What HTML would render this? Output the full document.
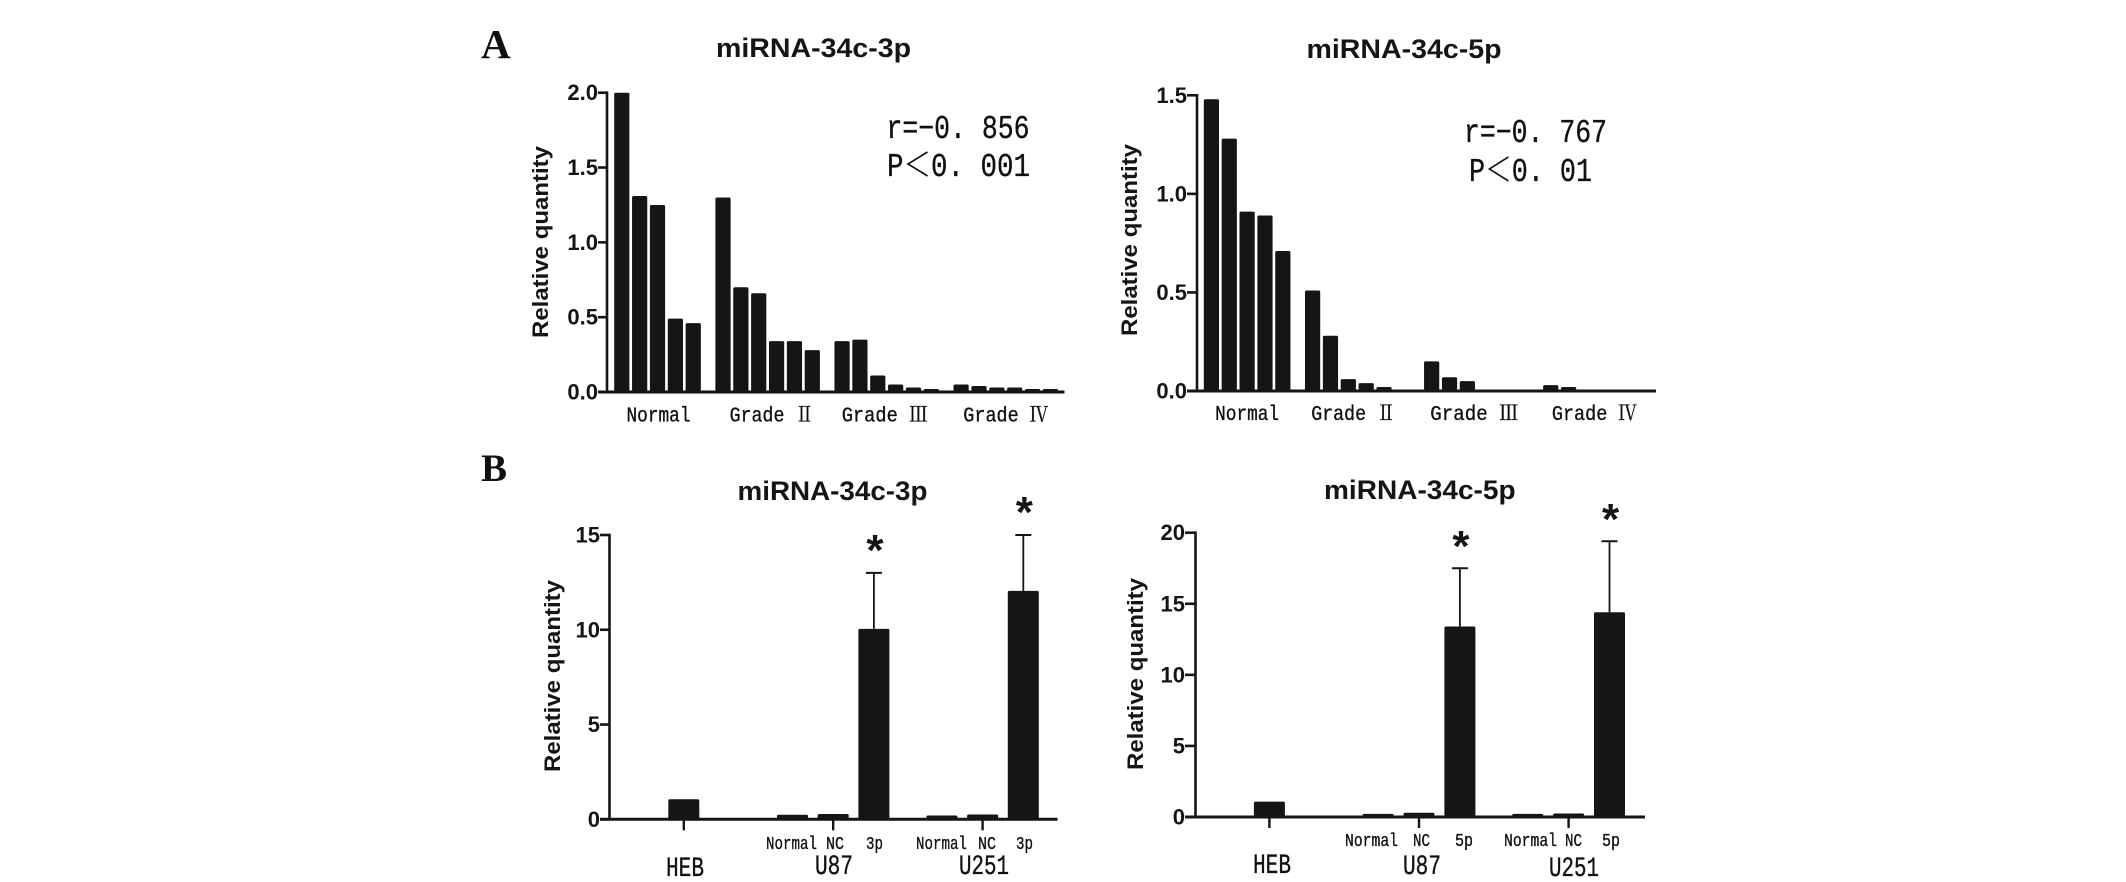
<!DOCTYPE html>
<html lang="en">
<head>
<meta charset="utf-8">
<title>miRNA-34c relative quantity charts</title>
<style>
html,body{margin:0;padding:0;background:#fff;width:2126px;height:882px;overflow:hidden}
svg{display:block}
.sans{font-family:"Liberation Sans",sans-serif;font-weight:bold;fill:#151515}
.mono{font-family:"Liberation Mono","Noto Serif CJK SC",monospace;fill:#111;stroke:#111;stroke-width:0.35px}
.letter{font-family:"Liberation Serif",serif;font-weight:bold;fill:#111}
</style>
</head>
<body>
<svg id="figure" xmlns="http://www.w3.org/2000/svg" width="2126" height="882" viewBox="0 0 2126 882">
  <text class="letter" x="481" y="58" font-size="41">A</text>
  <text class="letter" x="481" y="481" font-size="39">B</text>

  <text class="mono" x="886.5" y="138" font-size="33" textLength="143" lengthAdjust="spacingAndGlyphs">r=−0. 856</text>
  <text class="mono" x="887" y="176" font-size="33" textLength="143" lengthAdjust="spacingAndGlyphs">P＜0. 001</text>
  <text class="mono" x="1464" y="142" font-size="33" textLength="143" lengthAdjust="spacingAndGlyphs">r=−0. 767</text>
  <text class="mono" x="1469" y="181" font-size="33" textLength="123" lengthAdjust="spacingAndGlyphs">P＜0. 01</text>
</svg>
<script>
// ---------- data ----------
const titleA1 = "miRNA-34c-3p";
const titleA2 = "miRNA-34c-5p";
const titleB1 = "miRNA-34c-3p";
const titleB2 = "miRNA-34c-5p";
const yAxisTitle = "Relative quantity";

const gradeCategories = ["Normal", "Grade Ⅱ", "Grade Ⅲ", "Grade Ⅳ"];
const a1Normal = [2.0, 1.31, 1.25, 0.49, 0.46];
const a1Grade2 = [1.3, 0.7, 0.66, 0.34, 0.34, 0.28];
const a1Grade3 = [0.34, 0.35, 0.11, 0.05, 0.03, 0.02];
const a1Grade4 = [0.05, 0.04, 0.03, 0.03, 0.02, 0.02];
const a2Normal = [1.48, 1.28, 0.91, 0.89, 0.71];
const a2Grade2 = [0.51, 0.28, 0.06, 0.04, 0.02, 0];
const a2Grade3 = [0.15, 0.07, 0.05, 0, 0, 0];
const a2Grade4 = [0.03, 0.02, 0, 0, 0, 0];
const a1Ticks = ["0.0", "0.5", "1.0", "1.5", "2.0"];
const a2Ticks = ["0.0", "0.5", "1.0", "1.5"];

const cellLines = ["HEB", "U87", "U251"];
const b1SubLabels = ["Normal", "NC", "3p"];
const b2SubLabels = ["Normal", "NC", "5p"];
const b1Heb = [1.06];
const b1U87 = [0.24, 0.28, 10.05];
const b1U251 = [0.2, 0.25, 12.05];
const b1U87Err = [0, 0, 2.95];
const b1U251Err = [0, 0, 2.95];
const b2Heb = [1.08];
const b2U87 = [0.22, 0.3, 13.4];
const b2U251 = [0.22, 0.25, 14.4];
const b2U87Err = [0, 0, 4.1];
const b2U251Err = [0, 0, 5.0];
const b1Ticks = ["0", "5", "10", "15"];
const b2Ticks = ["0", "5", "10", "15", "20"];

// ---------- drawing ----------
const NS = "http://www.w3.org/2000/svg";
const svg = document.getElementById("figure");
const INK = "#151515";

function make(tag, attrs, parent) {
  const n = document.createElementNS(NS, tag);
  for (const k in attrs) n.setAttribute(k, attrs[k]);
  (parent || svg).appendChild(n);
  return n;
}

function drawFrame(p) {
  const yScale = v => p.y0 + (p.yTop - p.y0) * (v / p.yMax);
  const title = make("text", {class: "sans", x: p.titleX, y: p.titleY, "font-size": 27, textLength: p.titleW, lengthAdjust: "spacingAndGlyphs"});
  title.textContent = p.title;
  
  

  const yTitle = make("text", {class: "sans", transform: "translate(" + p.yTitleX + "," + p.yTitleY + ") rotate(-90)", "text-anchor": "middle", "font-size": 22, textLength: 192, lengthAdjust: "spacingAndGlyphs"});
  yTitle.textContent = yAxisTitle;
  
  

  p.ticks.forEach(t => {
    const y = yScale(parseFloat(t));
    const tick = make("line", {x1: p.axisLeft, x2: p.axisX, y1: y, y2: y, stroke: INK, "stroke-width": 2.6});
    
    
    const label = make("text", {class: "sans", x: p.axisLeft, y: y + 7.5, "text-anchor": "end", "font-size": 22});
    label.textContent = t;
    
    
  });

  const yLine = make("line", {x1: p.axisX, x2: p.axisX, y1: p.yTop - 1.3, y2: p.y0, stroke: INK, "stroke-width": 2.6});
  
  
  return yScale;
}

function finishAxis(p) {
  const xLine = make("line", {x1: p.axisLeft, x2: p.axisRight, y1: p.y0, y2: p.y0, stroke: INK, "stroke-width": 3});
  
  
}

function drawGradePanel(p) {
  const yScale = drawFrame(p);
  let cx = p.firstX;
  p.groups.forEach((vals, g) => {
    const start = cx;
    vals.forEach((v, i) => {
      const y = yScale(v);
      if (v > 0) {
        const bar = make("rect", {x: cx - p.barW / 2, y: y, width: p.barW, height: p.y0 - y, rx: 1.5, fill: INK});
        
        
      }
      if (i < vals.length - 1) cx += p.slot;
    });
    const center = (start + cx) / 2;
    const cat = make("text", {class: "mono", x: center + p.labelShift[g], y: p.labelY, "text-anchor": "middle", "font-size": 21, textLength: p.labelW[g], lengthAdjust: "spacingAndGlyphs"});
    cat.textContent = gradeCategories[g];
    
    
    cx += p.groupGap;
  });
  finishAxis(p);
}

function drawCellPanel(p) {
  const yScale = drawFrame(p);
  p.groups.forEach((vals, g) => {
    const tickX = p.hebX + g * p.tickStep;
    const tick = make("line", {x1: tickX, x2: tickX, y1: p.y0, y2: p.y0 + 11, stroke: INK, "stroke-width": 2.4});
    
    
    vals.forEach((v, i) => {
      const cx = tickX + (i - (vals.length - 1) / 2) * p.barStep;
      const y = yScale(v);
      const err = p.errs[g] ? p.errs[g][i] : 0;
      if (err > 0) {
        const top = yScale(v + err);
        const stem = make("line", {x1: cx, x2: cx, y1: top, y2: y, stroke: INK, "stroke-width": 1.8});
        
        
        const cap = make("line", {x1: cx - 8, x2: cx + 8, y1: top, y2: top, stroke: INK, "stroke-width": 2});
        
        
        const star = make("text", {class: "sans", x: cx + 1, y: top + p.starDy, "text-anchor": "middle", "font-size": 44});
        star.textContent = "*";
        
        
      }
      const bar = make("rect", {x: cx - p.barW / 2, y: y, width: p.barW, height: p.y0 - y, rx: 1.5, fill: INK});
      
      
    });
  });
  finishAxis(p);

  cellLines.forEach((name, g) => {
    const t = make("text", {class: "mono", x: p.groupLabelX[g], y: p.groupLabelY[g], "font-size": 28, textLength: p.groupLabelW[g], lengthAdjust: "spacingAndGlyphs"});
    t.textContent = name;
    
    
  });
  p.subLabelX.forEach((xs, g) => {
    xs.forEach((x, i) => {
      const t = make("text", {class: "mono", x: x, y: p.subLabelY, "font-size": 18, textLength: p.subLabelW[i], lengthAdjust: "spacingAndGlyphs"});
      t.textContent = p.subLabels[i];
      
      
    });
  });
}

drawGradePanel({
  id: "a1", title: titleA1, titleX: 716, titleY: 57, titleW: 195,
  yTitleX: 548, yTitleY: 242, ticks: a1Ticks, yMax: 2.0,
  axisX: 607, axisLeft: 598, axisRight: 1064.5, y0: 392, yTop: 92.7,
  groups: [a1Normal, a1Grade2, a1Grade3, a1Grade4],
  firstX: 621.8, slot: 17.86, groupGap: 29.76, barW: 15.2,
  labelY: 421.5, labelW: [64, 84, 86, 85], labelShift: [1, 4, -2, 0]
});
drawGradePanel({
  id: "a2", title: titleA2, titleX: 1306.5, titleY: 58, titleW: 195,
  yTitleX: 1137, yTitleY: 240, ticks: a2Ticks, yMax: 1.5,
  axisX: 1197, axisLeft: 1187, axisRight: 1656, y0: 391, yTop: 95.3,
  groups: [a2Normal, a2Grade2, a2Grade3, a2Grade4],
  firstX: 1211.4, slot: 17.86, groupGap: 29.76, barW: 15.2,
  labelY: 420, labelW: [64, 84, 88, 85], labelShift: [0, -4, -2, -1]
});
drawCellPanel({
  id: "b1", title: titleB1, titleX: 737.5, titleY: 500, titleW: 190,
  yTitleX: 560, yTitleY: 676, ticks: b1Ticks, yMax: 15,
  axisX: 609.5, axisLeft: 600, axisRight: 1057.5, y0: 819.3, yTop: 535,
  groups: [b1Heb, b1U87, b1U251], errs: [null, b1U87Err, b1U251Err],
  hebX: 683.8, tickStep: 149.4, barStep: 40.7, barW: 31, starDy: -8,
  groupLabelX: [666, 815, 959], groupLabelY: [876, 874, 874], groupLabelW: [38, 38, 50],
  subLabels: b1SubLabels, subLabelX: [[766, 826, 866], [916, 978, 1016]], subLabelY: 849, subLabelW: [51, 18, 17]
});
drawCellPanel({
  id: "b2", title: titleB2, titleX: 1324, titleY: 499, titleW: 191.6,
  yTitleX: 1143, yTitleY: 674, ticks: b2Ticks, yMax: 20,
  axisX: 1195.5, axisLeft: 1185, axisRight: 1645, y0: 817, yTop: 532.7,
  groups: [b2Heb, b2U87, b2U251], errs: [null, b2U87Err, b2U251Err],
  hebX: 1269.4, tickStep: 149.6, barStep: 40.9, barW: 31, starDy: -7,
  groupLabelX: [1253, 1403, 1549], groupLabelY: [873, 874, 876], groupLabelW: [38, 38, 50],
  subLabels: b2SubLabels, subLabelX: [[1345, 1413, 1455], [1504, 1565, 1602]], subLabelY: 846, subLabelW: [53, 17, 18]
});
</script>
</body>
</html>
